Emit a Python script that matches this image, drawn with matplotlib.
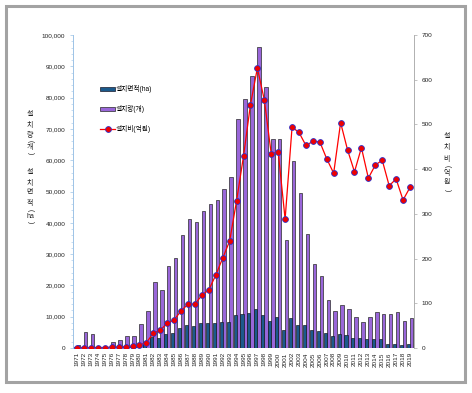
import matplotlib
matplotlib.use("Agg")
import matplotlib.pyplot as plt
from matplotlib.patches import Rectangle
from matplotlib.ticker import FuncFormatter, MultipleLocator

plt.rcParams["font.family"] = ["Liberation Sans", "Noto Sans CJK KR", "DejaVu Sans"]

# data
years = list(range(1971, 2020))

# 설치면적(ha) - left axis
area = [200, 100, 100, 50, 50, 100, 150, 200, 300, 800, 1800,
        3400, 3200, 4500, 4800, 6400, 7300, 7000, 8000, 8100, 8100,
        8300, 8400, 10400, 10900, 11200, 12400, 10400, 8600, 9900, 5600,
        9600, 7300, 7400, 5600, 5300, 4900, 3800, 4400, 4200, 3100,
        3200, 2800, 2900, 2900, 1300, 1300, 1000, 1400]

# 설치량(개) - left axis
count = [1000, 5000, 4500, 200, 300, 1900, 2700, 3900, 3900, 7700, 11700,
         21000, 18400, 26300, 28600, 36100, 41300, 40300, 43900, 46000, 47200,
         50700, 54600, 73200, 79600, 86900, 96100, 83400, 66900, 66900, 34500,
         59800, 49500, 36400, 26900, 22900, 15400, 11900, 13600, 12500, 9900,
         8200, 9800, 11600, 10800, 10800, 11500, 8600, 9500]

# 설치비(억원) - right axis
cost = [1, 1, 1, 1, 1, 2, 2, 3, 4, 7, 12,
        33, 40, 55, 63, 83, 98, 98, 118, 130, 163,
        201, 239, 329, 429, 544, 626, 555, 434, 439, 288,
        494, 482, 453, 462, 461, 423, 391, 504, 443, 394,
        448, 380, 409, 420, 363, 378, 331, 359]

W, H = 472, 393
fig = plt.figure(figsize=(W / 100, H / 100), dpi=100)
ax = fig.add_axes([73 / W, 45 / H, 341 / W, 313 / H])
ax2 = ax.twinx()

blue_x = [y - 0.22 for y in years]
purple_x = [y + 0.22 for y in years]
ax.bar(blue_x, area, width=0.44, color="#1b5a8c", edgecolor="#1a1a2a",
       linewidth=0.5, label="설치면적(ha)", zorder=3)
ax.bar(purple_x, count, width=0.5, color="#9966d9", edgecolor="#2a2a2a",
       linewidth=0.5, label="설치량(개)", zorder=2)
ax2.plot(years, cost, color="#ff0000", linewidth=0.9, marker="o",
         markersize=4.2, markerfacecolor="#ee0000", markeredgecolor="#3030c8",
         markeredgewidth=0.6, label="설치비(억원)", zorder=4)

ax.set_xlim(1970.42, 2019.58)
ax.set_ylim(0, 100000)
ax2.set_ylim(0, 700)

ax.yaxis.set_major_locator(MultipleLocator(10000))
ax.yaxis.set_minor_locator(MultipleLocator(2000))
ax.yaxis.set_major_formatter(FuncFormatter(lambda v, p: f"{int(v):,}"))
ax2.yaxis.set_major_locator(MultipleLocator(100))

ax.set_xticks(years)
ax.set_xticklabels([str(y) for y in years], rotation=90)
ax.tick_params(axis="x", length=0, pad=3, labelsize=4.6, labelcolor="#222222")
ax.tick_params(axis="y", which="major", length=2.5, width=0.5, color="#9dc3e6",
               labelsize=4.6, labelcolor="#222222", pad=3)
ax.tick_params(axis="y", which="minor", length=1.5, width=0.4, color="#9dc3e6")
ax2.tick_params(axis="y", length=2.5, width=0.5, color="#aaaaaa",
                labelsize=4.6, labelcolor="#222222", pad=3)

for a in (ax, ax2):
    a.spines["top"].set_visible(False)
    a.spines["bottom"].set_visible(False)
    a.set_facecolor("none")
ax.spines["right"].set_visible(False)
ax2.spines["left"].set_visible(False)
ax.spines["left"].set_color("#9dc3e6")
ax.spines["left"].set_linewidth(0.7)
ax2.spines["right"].set_color("#b0b0b0")
ax2.spines["right"].set_linewidth(0.7)

# legend
h1, l1 = ax.get_legend_handles_labels()
h2, l2 = ax2.get_legend_handles_labels()
fig.legend(h1 + h2, l1 + l2, loc="upper left",
           bbox_to_anchor=(97 / W, 1 - 82 / H), frameon=False,
           prop={"size": 4.8}, handlelength=2.2, handleheight=0.5,
           handletextpad=0.1, labelspacing=1.75, borderpad=0)


def stack(x, items, size=5):
    # vertical korean label: upright characters, parentheses turned
    for txt, y, rot in items:
        fig.text(x / W, 1 - y / H, txt, ha="center", va="center",
                 rotation=rot, fontsize=size, color="#222222")


stack(30, [("설", 115, 0), ("치", 125, 0), ("량", 135, 0), ("(", 141, -90),
           ("개", 147, 0), (")", 153, -90),
           ("설", 172, 0), ("치", 183, 0), ("면", 193, 0), ("적", 204, 0),
           ("(", 210, -90), ("ha", 216, 0), (")", 222, -90)])
stack(447, [("설", 136, 0), ("치", 148, 0), ("비", 160, 0), ("(", 166, -90),
            ("억", 173, 0), ("원", 183, 0), (")", 190, -90)])

# outer frame
fig.patches.append(Rectangle((6 / W, 1 - 382 / H), 459 / W, 376 / H,
                             transform=fig.transFigure, fill=False,
                             edgecolor="#a3a3a3", linewidth=2.2))

fig.savefig("out.png", dpi=100)
